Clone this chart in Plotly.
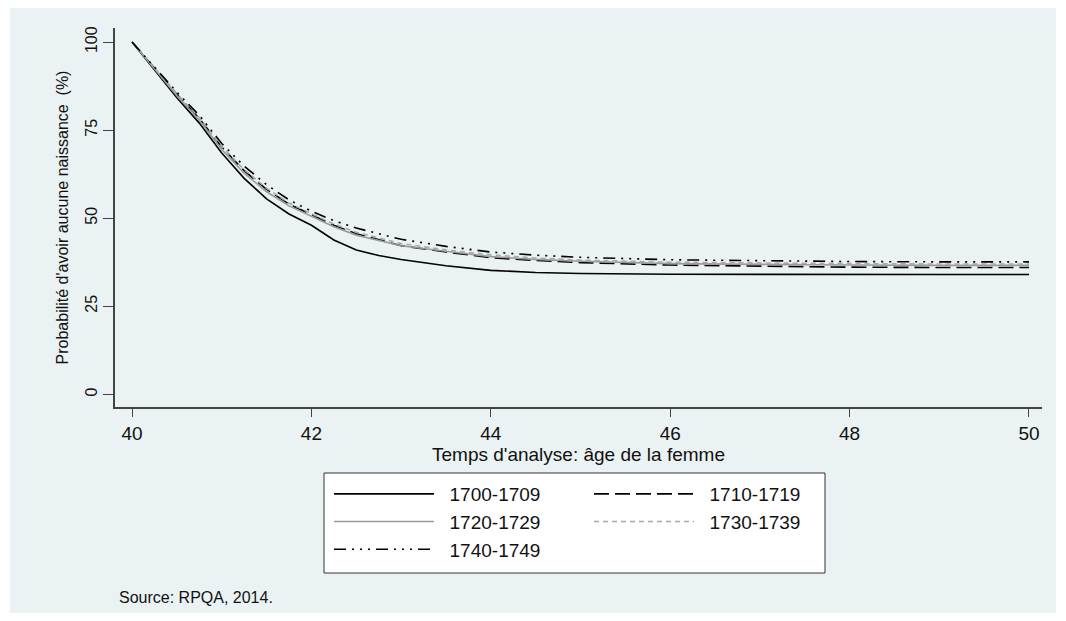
import plotly.graph_objects as go

ages = [40, 40.25, 40.5, 40.75, 41, 41.25, 41.5, 41.75, 42, 42.25, 42.5, 42.75,
        43, 43.5, 44, 44.5, 45, 46, 47, 48, 49, 50]

s1700 = [100, 92.0, 84.2, 77.0, 68.5, 61.3, 55.5, 51.2, 48.0, 43.8, 41.0, 39.4,
         38.3, 36.5, 35.2, 34.6, 34.3, 34.1, 34.0, 34.0, 34.0, 34.0]
s1710 = [100, 92.5, 85.2, 78.3, 70.2, 63.5, 58.2, 54.0, 51.0, 48.0, 45.6, 43.9,
         42.2, 40.4, 38.8, 38.0, 37.4, 36.7, 36.3, 36.1, 36.0, 36.0]
s1720 = [100, 92.3, 84.8, 77.8, 69.5, 62.8, 57.5, 53.5, 50.5, 47.6, 45.2, 43.8,
         42.2, 40.6, 39.1, 38.3, 37.8, 37.1, 36.8, 36.7, 36.6, 36.6]
s1730 = [100, 92.5, 85.3, 78.5, 70.3, 63.8, 58.5, 54.3, 51.2, 48.3, 46.0, 44.3,
         42.8, 41.0, 39.6, 38.7, 38.1, 37.5, 37.2, 37.1, 37.0, 37.0]
s1740 = [100, 92.8, 85.8, 79.2, 71.2, 64.8, 59.5, 55.2, 52.0, 49.3, 47.2, 45.6,
         44.0, 42.0, 40.4, 39.5, 38.9, 38.2, 37.9, 37.7, 37.6, 37.6]

labels = ["1700-1709", "1710-1719", "1720-1729", "1730-1739", "1740-1749"]
xticks = [40, 42, 44, 46, 48, 50]
yticks = [0, 25, 50, 75, 100]

FONT = "Arial, Liberation Sans, sans-serif"
BG = "#EAF2F3"
TXT = "#111111"

styles = [
    dict(color="black", width=1.6, dash="solid", legend="legend"),
    dict(color="black", width=1.6, dash="15px,6px", legend="legend2"),
    dict(color="#9a9a9a", width=1.6, dash="solid", legend="legend"),
    dict(color="#a8a8a8", width=1.6, dash="5px,4px", legend="legend2"),
    dict(color="black", width=1.6, dash="12px,6px,2px,6px,2px,6px,2px,6px", legend="legend"),
]
series = [s1700, s1710, s1720, s1730, s1740]

fig = go.Figure()
for lab, ys, st in zip(labels, series, styles):
    fig.add_trace(go.Scatter(
        x=ages, y=ys, mode="lines", name="\u00a0\u00a0" + lab, legendgroup=lab,
        line=dict(color=st["color"], width=st["width"], dash=st["dash"]),
        legend=st["legend"], hoverinfo="skip"))

# page has an 8px body margin: figure coords = screen coords - 8
OFF = 8
FW, FH = 1066 - OFF, 621 - OFF
L, R, T, B = 115 - OFF, 1042 - OFF, 28 - OFF, 407 - OFF
W, H = R - L, B - T
def px(x):  # screen px -> paper x
    return (x - OFF - L) / W
def py(y):  # screen px -> paper y
    return (B - (y - OFF)) / H

shapes = [
    dict(type="rect", xref="paper", yref="paper", x0=px(10), x1=px(1056),
         y0=py(613), y1=py(5), fillcolor=BG, line=dict(width=0), layer="below"),
    dict(type="rect", xref="paper", yref="paper", x0=px(324), x1=px(825),
         y0=py(573), y1=py(473), fillcolor="white",
         line=dict(color="#333333", width=1), layer="below"),
]

leg_common = dict(orientation="v", bgcolor="rgba(0,0,0,0)", borderwidth=0,
                  font=dict(family=FONT, size=19, color=TXT),
                  itemwidth=100, yanchor="top", xanchor="left",
                  tracegroupgap=4, traceorder="normal")

fig.update_layout(
    width=FW, height=FH,
    margin=dict(l=L, r=FW - R, t=T, b=FH - B),
    paper_bgcolor="white", plot_bgcolor="white",
    font=dict(family=FONT, size=19, color=TXT),
    shapes=shapes,
    showlegend=True,
    legend=dict(x=px(329), y=py(482) + 7 / H, **leg_common),
    legend2=dict(x=px(589), y=py(482) + 7 / H, **leg_common),
    annotations=[dict(text="Source: RPQA, 2014.", xref="paper", yref="paper",
                      x=px(117), y=py(597), xanchor="left", yanchor="middle",
                      showarrow=False, font=dict(family=FONT, size=16, color=TXT))],
)

fig.update_xaxes(range=[39.81, 50.145], tickvals=xticks, ticktext=[str(v) for v in xticks],
                 showgrid=False, zeroline=False, showline=True, linecolor="#444444",
                 linewidth=1.5, ticks="outside", ticklen=8, tickcolor="#444444",
                 tickfont=dict(size=19),
                 title=dict(text="Temps d'analyse: âge de la femme", font=dict(size=19), standoff=3))
fig.update_yaxes(range=[-3.6, 104], tickvals=yticks, ticktext=[str(v) for v in yticks],
                 showgrid=True, gridcolor=BG, gridwidth=1.5, zeroline=False,
                 showline=True, linecolor="#444444", linewidth=1.5,
                 ticks="outside", ticklen=10, tickcolor="#444444", tickangle=-90,
                 tickfont=dict(size=16),
                 title=dict(text="Probabilité d'avoir aucune naissance  (%)",
                            font=dict(size=16), standoff=10))

fig.write_html("out.html")
